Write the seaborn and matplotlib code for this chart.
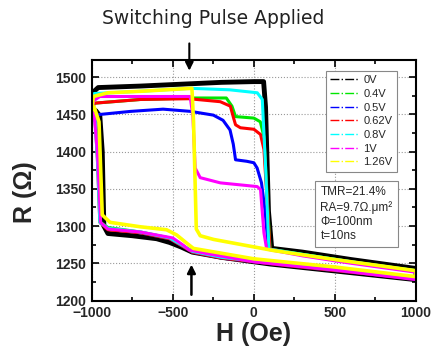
import numpy as np
import pandas as pd
import matplotlib
matplotlib.use('Agg')
import matplotlib.pyplot as plt
import seaborn as sns
from matplotlib.lines import Line2D
from matplotlib.ticker import MultipleLocator

# Hysteresis loops R(H) for each pulse voltage.
# Each loop: up sweep -1000 -> 1000 Oe, then down sweep back to -1000 Oe.
h_0v = [-1000, -990, -960, -700, -400, -200, 0, 60, 72, 90, 110, 300, 600, 1000,
        1000, 700, 400, 100, -200, -380, -450, -520, -600, -750, -900, -925, -935, -950, -975, -1000]
r_0v = [1455, 1480, 1486, 1488, 1491, 1493, 1494, 1494, 1460, 1320, 1270, 1265, 1255, 1243,
        1228, 1235, 1242, 1249, 1258, 1265, 1272, 1278, 1283, 1287, 1290, 1300, 1400, 1448, 1455, 1455]

h_04v = [-1000, -985, -700, -400, -170, -135, -113, 0, 40, 62, 83, 100, 300, 600, 1000,
         1000, 600, 200, -200, -380, -440, -520, -700, -900, -945, -960, -975, -1000]
r_04v = [1450, 1465, 1470, 1472, 1472, 1461, 1447, 1445, 1440, 1420, 1335, 1269, 1262, 1252, 1240,
         1230, 1239, 1248, 1258, 1266, 1274, 1284, 1292, 1298, 1305, 1380, 1440, 1450]

h_05v = [-1000, -990, -760, -560, -390, -250, -190, -147, -127, -113, -44, 0, 20, 47, 68, 90, 300, 600, 1000,
         1000, 600, 200, -200, -380, -440, -520, -700, -900, -945, -960, -975, -1000]
r_05v = [1448, 1449, 1454, 1457, 1454, 1449, 1442, 1429, 1410, 1389, 1387, 1385, 1378, 1358, 1322, 1269, 1261, 1252, 1239,
         1229, 1238, 1247, 1257, 1265, 1273, 1283, 1291, 1296, 1304, 1380, 1440, 1448]

h_062v = [-1000, -985, -700, -400, -207, -145, -125, -113, -83, 0, 41, 62, 83, 99, 300, 600, 1000,
          1000, 600, 200, -200, -380, -440, -520, -700, -900, -950, -965, -980, -1000]
r_062v = [1452, 1465, 1470, 1471, 1467, 1461, 1445, 1436, 1432, 1430, 1423, 1403, 1330, 1269, 1261, 1251, 1239,
          1229, 1238, 1247, 1257, 1265, 1273, 1283, 1291, 1295, 1305, 1390, 1445, 1452]

h_08v = [-1000, -985, -700, -393, -150, 21, 52, 72, 93, 300, 600, 1000,
         1000, 600, 200, -200, -380, -440, -520, -700, -900, -950, -965, -980, -1000]
r_08v = [1452, 1478, 1481, 1485, 1483, 1479, 1470, 1380, 1269, 1262, 1252, 1240,
         1230, 1239, 1248, 1258, 1266, 1274, 1284, 1292, 1297, 1305, 1390, 1445, 1452]

h_1v = [-1000, -990, -950, -393, -376, -362, -331, -207, 21, 41, 62, 79, 300, 600, 800, 1000,
        1000, 500, 0, -290, -400, -440, -500, -700, -900, -945, -965, -985, -1000]
r_1v = [1452, 1468, 1474, 1474, 1447, 1378, 1365, 1358, 1353, 1349, 1291, 1269, 1260, 1250, 1244, 1238,
        1228, 1241, 1252, 1263, 1268, 1275, 1284, 1292, 1296, 1305, 1400, 1450, 1452]

h_126v = [-1000, -990, -900, -700, -382, -372, -355, -331, -248, 0, 124, 500, 1000,
          1000, 500, 0, -373, -414, -476, -538, -700, -887, -935, -955, -985, -1000]
r_126v = [1455, 1474, 1479, 1481, 1485, 1440, 1296, 1287, 1282, 1272, 1267, 1255, 1240,
          1232, 1245, 1256, 1270, 1277, 1288, 1295, 1299, 1305, 1315, 1440, 1460, 1460]

labels = ['0V', '0.4V', '0.5V', '0.62V', '0.8V', '1V', '1.26V']
colors = ['#000000', '#00e600', '#0000ff', '#ff0000', '#00ffff', '#ff00ff', '#ffff00']
loops = [(h_0v, r_0v), (h_04v, r_04v), (h_05v, r_05v), (h_062v, r_062v),
         (h_08v, r_08v), (h_1v, r_1v), (h_126v, r_126v)]
widths = [3.5, 2.2, 2.2, 2.2, 2.2, 2.2, 2.6]

sns.set_style('ticks')
plt.rcParams['font.family'] = ['Liberation Sans', 'DejaVu Sans']

fig = plt.figure(figsize=(4.33, 3.52), dpi=100)
ax = fig.add_axes([0.2118, 0.1463, 0.7490, 0.6832])

for lab, col, (h, r), lw in zip(labels, colors, loops, widths):
    df = pd.DataFrame({'H': h, 'R': r})
    sns.lineplot(data=df, x='H', y='R', sort=False, estimator=None, color=col,
                 linewidth=lw, ax=ax, legend=False)

ax.set_xlim(-1000, 1000)
ax.set_ylim(1200, 1523)
ax.xaxis.set_major_locator(MultipleLocator(500))
ax.xaxis.set_minor_locator(MultipleLocator(250))
ax.yaxis.set_major_locator(MultipleLocator(50))
ax.yaxis.set_minor_locator(MultipleLocator(25))
ax.tick_params(which='both', direction='in', top=True, right=True, width=1.2, color='k')
ax.tick_params(which='major', length=5, labelsize=10)
ax.tick_params(axis='x', pad=4)
ax.tick_params(axis='y', pad=4)
ax.tick_params(which='minor', length=3)
for t in ax.get_xticklabels() + ax.get_yticklabels():
    t.set_fontweight('bold')
ax.grid(True, which='major', ls=':', color='#999999', lw=0.8)
for s in ax.spines.values():
    s.set_color('k')
    s.set_linewidth(1.5)

ax.set_xlabel('H (Oe)', fontsize=18, fontweight='bold')
ax.set_ylabel('R (\u03a9)', fontsize=18, fontweight='bold')
ax.xaxis.set_label_coords(0.5, -0.088)
ax.yaxis.set_label_coords(-0.17, 0.45)

handles = [Line2D([], [], color=c, ls='-.', lw=1) for c in colors]
leg = ax.legend(handles, labels, loc='upper right', bbox_to_anchor=(0.958, 0.978),
                fontsize=8, frameon=True, fancybox=False, framealpha=1,
                edgecolor='#888888', handlelength=2.6, labelspacing=0.33,
                borderpad=0.4, handletextpad=0.4)
leg.get_frame().set_linewidth(0.8)

ax.text(0.705, 0.475, 'TMR=21.4%\nRA=9.7\u03a9.\u03bcm\u00b2\n\u03a6=100nm\nt=10ns',
        transform=ax.transAxes, ha='left', va='top', fontsize=8.5, linespacing=1.25,
        bbox=dict(boxstyle='square,pad=0.45', fc='white', ec='#888888', lw=0.8))

ax.annotate('', xy=(-398, 1505), xytext=(-398, 1549), annotation_clip=False,
            arrowprops=dict(arrowstyle='-|>', color='k', lw=1.5, mutation_scale=12))
ax.annotate('', xy=(-385, 1252), xytext=(-385, 1204),
            arrowprops=dict(arrowstyle='-|>', color='k', lw=1.8, mutation_scale=12))

fig.text(213.5 / 433, 1 - 18 / 352, 'Switching Pulse Applied', ha='center', va='center',
         fontsize=13.5, family='DejaVu Sans', color='#222222')

fig.savefig('out.png', dpi=100)
